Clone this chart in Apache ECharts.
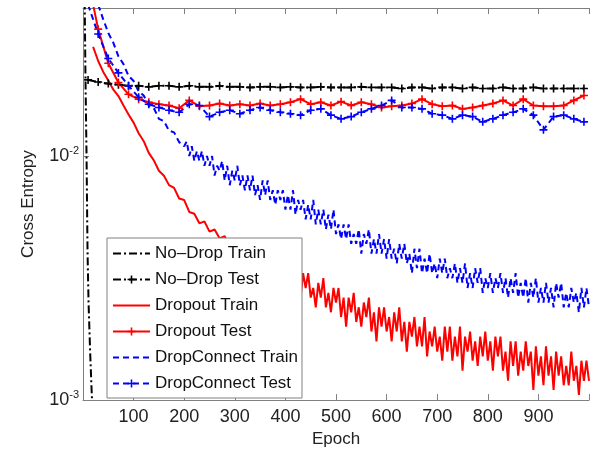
<!DOCTYPE html>
<html>
<head>
<meta charset="utf-8">
<script src="https://cdn.jsdelivr.net/npm/echarts@6/dist/echarts.min.js"></script>
<style>
  html, body { margin: 0; padding: 0; background: #fff; }
  #chart { width: 592px; height: 453px; }
</style>
</head>
<body>
<div id="chart"></div>
<script>
  // epochs
  const range = (a, b, step) => { const r = []; for (let x = a; x <= b; x += step) r.push(x); return r; };
  const noDropTrainEpochs = [3, 5, 7, 9, 11, 14, 17, 20];
  const dropoutTrainEpochs = range(20, 290, 10).concat(range(300, 1000, 5));
  const dropConnectTrainEpochs = range(30, 190, 10).concat(range(200, 1000, 5));
  const testEpochs = range(10, 990, 20);

  // cross entropy values
  const noDropTrain = [0.05, 0.02, 0.01, 0.004, 0.0025, 0.0016, 0.0011, 0.0008];

  const noDropTest = [
    0.0205, 0.0201, 0.0198, 0.0196, 0.0194, 0.0194, 0.0192, 0.0194, 0.0194, 0.0192,
    0.0194, 0.0192, 0.0192, 0.0194, 0.0192, 0.0192, 0.0191, 0.0192, 0.0192, 0.0191,
    0.0192, 0.0191, 0.0191, 0.0192, 0.0191, 0.0191, 0.0191, 0.0192, 0.0191, 0.0191,
    0.0191, 0.0189, 0.0191, 0.0191, 0.0189, 0.0191, 0.0191, 0.0189, 0.0191, 0.0189,
    0.0189, 0.0191, 0.0189, 0.0189, 0.0191, 0.0189, 0.0189, 0.0189, 0.0189, 0.0189
  ];

  const dropoutTrain = [
    // 20 .. 290, every 10
    0.0280, 0.0245, 0.0221, 0.0204, 0.0187, 0.0176, 0.0161, 0.0148, 0.0137,
    0.0124, 0.0115, 0.0103, 0.0096, 0.0087, 0.0083, 0.0076, 0.0074, 0.0067, 0.0066,
    0.0059, 0.0058, 0.0053, 0.0054, 0.0049, 0.0050, 0.0046, 0.0047, 0.0042,
    // 300 .. 1000, every 5
    0.00398, 0.00437, 0.00380, 0.00417, 0.00347, 0.00398, 0.00363, 0.00417, 0.00347, 0.00363,
    0.00331, 0.00380, 0.00347, 0.00380, 0.00302, 0.00347, 0.00316, 0.00380, 0.00302, 0.00347,
    0.00288, 0.00347, 0.00302, 0.00347, 0.00288, 0.00316, 0.00263, 0.00331, 0.00288, 0.00331,
    0.00263, 0.00288, 0.00240, 0.00302, 0.00263, 0.00316, 0.00240, 0.00275, 0.00229, 0.00288,
    0.00251, 0.00288, 0.00219, 0.00263, 0.00200, 0.00263, 0.00229, 0.00275, 0.00209, 0.00240,
    0.00200, 0.00251, 0.00219, 0.00263, 0.00191, 0.00229, 0.00174, 0.00240, 0.00200, 0.00240,
    0.00191, 0.00219, 0.00174, 0.00229, 0.00191, 0.00240, 0.00174, 0.00209, 0.00158, 0.00209,
    0.00182, 0.00219, 0.00166, 0.00200, 0.00166, 0.00219, 0.00151, 0.00191, 0.00166, 0.00200,
    0.00158, 0.00182, 0.00145, 0.00200, 0.00158, 0.00200, 0.00145, 0.00182, 0.00151, 0.00200,
    0.00132, 0.00182, 0.00158, 0.00191, 0.00145, 0.00174, 0.00138, 0.00182, 0.00151, 0.00191,
    0.00145, 0.00174, 0.00132, 0.00182, 0.00151, 0.00182, 0.00132, 0.00158, 0.00120, 0.00174,
    0.00138, 0.00174, 0.00126, 0.00158, 0.00132, 0.00174, 0.00138, 0.00158, 0.00110, 0.00166,
    0.00126, 0.00151, 0.00115, 0.00166, 0.00126, 0.00151, 0.00110, 0.00158, 0.00126, 0.00151,
    0.00115, 0.00138, 0.00115, 0.00158, 0.00120, 0.00138, 0.00105, 0.00145, 0.00120, 0.00145,
    0.00120
  ];

  const dropoutTest = [
    0.0525, 0.0331, 0.0240, 0.0200, 0.0179, 0.0171, 0.0166, 0.0163, 0.0161, 0.0157,
    0.0169, 0.0160, 0.0161, 0.0164, 0.0161, 0.0163, 0.0161, 0.0164, 0.0161, 0.0163,
    0.0166, 0.0171, 0.0163, 0.0166, 0.0161, 0.0167, 0.0161, 0.0166, 0.0163, 0.0158,
    0.0160, 0.0161, 0.0164, 0.0171, 0.0163, 0.0160, 0.0161, 0.0156, 0.0158, 0.0161,
    0.0164, 0.0169, 0.0161, 0.0171, 0.0161, 0.0160, 0.0160, 0.0161, 0.0169, 0.0177
  ];

  const dropConnectTrain = [
    // 30 .. 190, every 10
    0.0417, 0.0363, 0.0319, 0.0291, 0.0256, 0.0238, 0.0213, 0.0203,
    0.0184, 0.0177, 0.0161, 0.0157, 0.0142, 0.0139, 0.0127, 0.0125, 0.0114,
    // 200 .. 1000, every 5
    0.01096, 0.01148, 0.01000, 0.01096, 0.00955, 0.01047, 0.00955, 0.01047, 0.00912, 0.01000,
    0.00912, 0.01000, 0.00832, 0.00912, 0.00871, 0.00955, 0.00794, 0.00912, 0.00759, 0.00871,
    0.00794, 0.00912, 0.00759, 0.00832, 0.00724, 0.00832, 0.00724, 0.00832, 0.00692, 0.00759,
    0.00661, 0.00794, 0.00692, 0.00794, 0.00661, 0.00724, 0.00631, 0.00724, 0.00661, 0.00724,
    0.00603, 0.00692, 0.00603, 0.00724, 0.00575, 0.00661, 0.00603, 0.00661, 0.00550, 0.00631,
    0.00550, 0.00661, 0.00525, 0.00603, 0.00525, 0.00603, 0.00501, 0.00575, 0.00501, 0.00603,
    0.00479, 0.00525, 0.00457, 0.00525, 0.00457, 0.00525, 0.00437, 0.00479, 0.00437, 0.00501,
    0.00398, 0.00479, 0.00437, 0.00501, 0.00398, 0.00457, 0.00398, 0.00479, 0.00398, 0.00457,
    0.00380, 0.00457, 0.00380, 0.00417, 0.00363, 0.00437, 0.00380, 0.00437, 0.00363, 0.00398,
    0.00331, 0.00417, 0.00347, 0.00417, 0.00331, 0.00380, 0.00331, 0.00398, 0.00331, 0.00363,
    0.00316, 0.00380, 0.00331, 0.00380, 0.00316, 0.00347, 0.00316, 0.00363, 0.00302, 0.00347,
    0.00302, 0.00363, 0.00288, 0.00331, 0.00288, 0.00347, 0.00302, 0.00347, 0.00275, 0.00316,
    0.00288, 0.00331, 0.00275, 0.00316, 0.00288, 0.00331, 0.00275, 0.00316, 0.00263, 0.00316,
    0.00275, 0.00331, 0.00263, 0.00302, 0.00263, 0.00316, 0.00251, 0.00302, 0.00263, 0.00316,
    0.00251, 0.00288, 0.00251, 0.00302, 0.00251, 0.00288, 0.00240, 0.00302, 0.00263, 0.00302,
    0.00240, 0.00275, 0.00240, 0.00288, 0.00251, 0.00275, 0.00229, 0.00288, 0.00240, 0.00288,
    0.00240
  ];

  const dropConnectTest = [
    0.0417, 0.0316, 0.0251, 0.0219, 0.0194, 0.0174, 0.0163, 0.0158, 0.0154, 0.0151,
    0.0163, 0.0161, 0.0145, 0.0151, 0.0154, 0.0149, 0.0154, 0.0158, 0.0154, 0.0151,
    0.0149, 0.0147, 0.0154, 0.0156, 0.0147, 0.0142, 0.0145, 0.0151, 0.0156, 0.0161,
    0.0169, 0.0158, 0.0158, 0.0156, 0.0149, 0.0147, 0.0142, 0.0147, 0.0145, 0.0138,
    0.0142, 0.0147, 0.0151, 0.0156, 0.0147, 0.0128, 0.0145, 0.0147, 0.0142, 0.0138
  ];

  const xTicks = [100, 200, 300, 400, 500, 600, 700, 800, 900];

  const pairs = (xs, ys) => xs.map((x, i) => [x, ys[i]]);
  const plus = 'path://M4,0H6V4H10V6H6V10H4V6H0V4H4Z';
  const dashDot = [8, 3, 2, 3];
  const dash = [6, 4];
  const font = 'Liberation Sans';
  const axisColor = '#808080';

  const chart = echarts.init(document.getElementById('chart'));

  const mk = (name, color, lineType, data, marker) => ({
    name: name,
    type: 'line',
    data: data,
    color: color,
    lineStyle: { color: color, width: 2, type: lineType },
    itemStyle: { color: color },
    symbol: marker ? plus : 'none',
    symbolSize: 8,
    showSymbol: !!marker,
    showAllSymbol: true,
    clip: true,
    z: marker ? 3 : 2
  });

  // train curves have no markers: hide the legend symbol, keep the line
  const noMark = { opacity: 0 };

  chart.setOption({
    animation: false,
    grid: { left: 83, right: -11, top: 8, bottom: 42 },
    legend: {
      orient: 'vertical',
      left: 107,
      top: 238,
      itemWidth: 37,
      itemHeight: 10,
      itemGap: 9,
      padding: [7, 4, 6, 5],
      backgroundColor: '#fff',
      borderColor: axisColor,
      borderWidth: 1,
      borderRadius: 0,
      textStyle: { fontSize: 17, color: '#111', fontFamily: font },
      data: [
        { name: 'No\u2013Drop Train', itemStyle: noMark },
        'No\u2013Drop Test',
        { name: 'Dropout Train', itemStyle: noMark },
        'Dropout Test',
        { name: 'DropConnect Train', itemStyle: noMark },
        'DropConnect Test'
      ]
    },
    xAxis: [{
      type: 'value', min: 0, max: 1000, interval: 100,
      name: 'Epoch', nameLocation: 'middle', nameGap: 28,
      nameTextStyle: { fontSize: 17, color: '#222', fontFamily: font },
      axisLine: { lineStyle: { color: axisColor } },
      axisTick: { inside: true, length: 6, lineStyle: { color: axisColor } },
      axisLabel: {
        margin: 8, fontSize: 18, color: '#222', fontFamily: font,
        formatter: v => xTicks.indexOf(v) >= 0 ? String(v) : ''
      },
      splitLine: { show: false }
    }, {
      type: 'value', min: 0, max: 1000, interval: 100, position: 'top',
      axisLine: { lineStyle: { color: axisColor } },
      axisTick: { inside: true, length: 6, lineStyle: { color: axisColor } },
      axisLabel: { show: false },
      splitLine: { show: false }
    }],
    yAxis: {
      type: 'log', logBase: 10, min: 0.001, max: 0.0404,
      name: 'Cross Entropy', nameLocation: 'middle', nameGap: 46,
      nameTextStyle: { fontSize: 17, color: '#222', fontFamily: font },
      axisLine: { show: true, lineStyle: { color: axisColor } },
      axisTick: { show: true, inside: true, length: 6, lineStyle: { color: axisColor } },
      axisLabel: {
        margin: 4, showMaxLabel: false,
        formatter: v => {
          const l = Math.log10(v), e = Math.round(l);
          if (Math.abs(l - e) > 1e-6) return '';
          return '{b|10}{s|-' + Math.abs(e) + '}';
        },
        rich: {
          b: { fontSize: 18, color: '#222', fontFamily: font },
          s: { fontSize: 11, color: '#222', fontFamily: font, padding: [0, 0, 10, 0] }
        }
      },
      splitLine: { show: false }
    },
    series: [
      mk('No\u2013Drop Train', '#000', dashDot, pairs(noDropTrainEpochs, noDropTrain), false),
      mk('No\u2013Drop Test', '#000', dashDot, pairs(testEpochs, noDropTest), true),
      mk('Dropout Train', '#ff0000', 'solid', pairs(dropoutTrainEpochs, dropoutTrain), false),
      mk('Dropout Test', '#ff0000', 'solid', pairs(testEpochs, dropoutTest), true),
      mk('DropConnect Train', '#0000ff', dash, pairs(dropConnectTrainEpochs, dropConnectTrain), false),
      mk('DropConnect Test', '#0000ff', dash, pairs(testEpochs, dropConnectTest), true)
    ]
  });
</script>
</body>
</html>
